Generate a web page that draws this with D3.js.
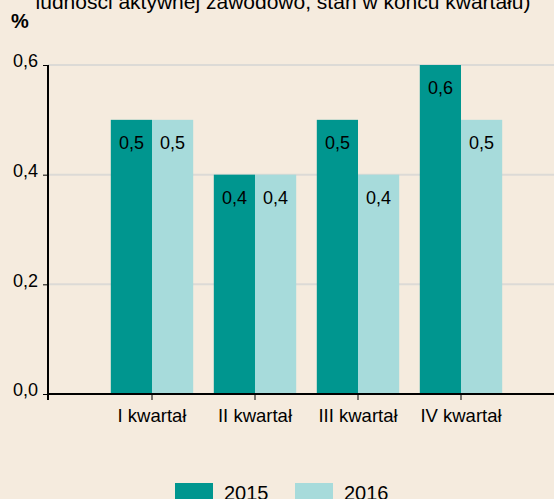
<!DOCTYPE html>
<html>
<head>
<meta charset="utf-8">
<script src="https://cdn.jsdelivr.net/npm/d3@7"></script>
<style>
  body { margin: 0; background: #f5ebde; }
  svg { display: block; font-family: "Liberation Sans", Arial, sans-serif; }
</style>
</head>
<body>
<svg id="chart" width="554" height="499"></svg>
<script>
var quarters = ["I kwartał", "II kwartał", "III kwartał", "IV kwartał"];
var years = ["2015", "2016"];
var values2015 = [0.5, 0.4, 0.5, 0.6];
var values2016 = [0.5, 0.4, 0.4, 0.5];
var yTicks = [0, 0.2, 0.4, 0.6];
var colors = ["#00968f", "#a7dbdb"];

var svg = d3.select("#chart");
svg.append("rect").attr("width", 554).attr("height", 499).attr("fill", "#f5ebde");

var axisX = 48, chartW = 554, plotTop = 65, plotBottom = 394;
var fmt = function (d) { return d3.format(".1f")(d).replace(".", ","); };

var y = d3.scaleLinear().domain([0, 0.6]).range([plotBottom, plotTop]);
var x = d3.scaleBand().domain(quarters).range([100.5, 512.5]).paddingInner(0.2).paddingOuter(0.1);
var xSub = d3.scaleBand().domain(years).range([0, x.bandwidth()]);

// title (cut off at top)
svg.append("text")
    .attr("x", 283).attr("y", 9)
    .attr("text-anchor", "middle")
    .style("font-size", "21px")
    .text("ludności aktywnej zawodowo, stan w końcu kwartału)");

svg.append("text")
    .attr("x", 11).attr("y", 28)
    .style("font-size", "20px").style("font-weight", "bold")
    .text("%");

// gridlines
svg.selectAll(".grid")
    .data(yTicks.filter(function (d) { return d > 0; }))
    .enter().append("line")
    .attr("x1", axisX).attr("x2", chartW)
    .attr("y1", function (d) { return y(d); })
    .attr("y2", function (d) { return y(d); })
    .attr("stroke", "#dcdad6").attr("stroke-width", 2);

// bars
var rows = quarters.map(function (q, i) {
    return { q: q, vals: [{ year: "2015", v: values2015[i] }, { year: "2016", v: values2016[i] }] };
});

var g = svg.selectAll(".grp").data(rows).enter().append("g")
    .attr("transform", function (d) { return "translate(" + x(d.q) + ",0)"; });

g.selectAll("rect").data(function (d) { return d.vals; }).enter().append("rect")
    .attr("x", function (d) { return xSub(d.year); })
    .attr("width", xSub.bandwidth())
    .attr("y", function (d) { return y(d.v); })
    .attr("height", function (d) { return plotBottom - y(d.v); })
    .attr("fill", function (d, i) { return colors[i]; });

g.selectAll(".lbl").data(function (d) { return d.vals; }).enter().append("text")
    .attr("x", function (d) { return xSub(d.year) + xSub.bandwidth() / 2; })
    .attr("y", function (d) { return y(d.v) + 29; })
    .attr("text-anchor", "middle")
    .style("font-size", "18px")
    .text(function (d) { return fmt(d.v); });

// y axis
var yAxis = d3.axisLeft(y).tickValues(yTicks).tickSize(5).tickPadding(5).tickFormat(fmt);
var ya = svg.append("g").attr("transform", "translate(" + axisX + ",0)").call(yAxis)
    .attr("font-family", null).attr("font-size", 18);
ya.select(".domain").remove();
ya.selectAll("text").attr("fill", "#000").attr("dy", "0.1em");
ya.selectAll("line").attr("stroke", "#000");

svg.append("line").attr("x1", axisX).attr("x2", axisX).attr("y1", plotTop).attr("y2", plotBottom + 6)
    .attr("stroke", "#000").attr("stroke-width", 2);

// x axis
var xAxis = d3.axisBottom(x).tickSize(6).tickPadding(9);
var xa = svg.append("g").attr("transform", "translate(0," + plotBottom + ")").call(xAxis)
    .attr("font-family", null).attr("font-size", 18.5);
xa.select(".domain").remove();
xa.selectAll("text").attr("fill", "#000");
xa.selectAll("line").attr("stroke", "#000");

svg.append("line").attr("x1", axisX - 1).attr("x2", chartW).attr("y1", plotBottom).attr("y2", plotBottom)
    .attr("stroke", "#000").attr("stroke-width", 2);

// legend
var legend = svg.selectAll(".leg").data(years).enter().append("g")
    .attr("transform", function (d, i) { return "translate(" + (175 + i * 120) + ",483)"; });
legend.append("rect").attr("width", 38).attr("height", 20)
    .attr("fill", function (d, i) { return colors[i]; });
legend.append("text").attr("x", 49).attr("y", 17)
    .style("font-size", "20px")
    .text(function (d) { return d; });
</script>
</body>
</html>
